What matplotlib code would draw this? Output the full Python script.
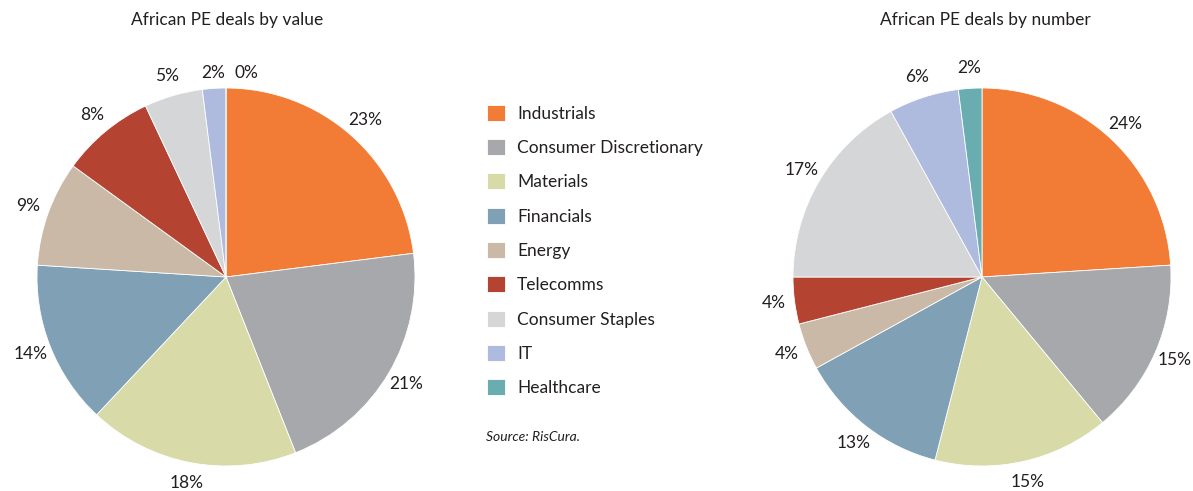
import matplotlib.pyplot as plt

plt.rcParams['font.family'] = ['Lato', 'DejaVu Sans']

# sectors, clockwise from 12 o'clock
sectors = ['Industrials', 'Consumer Discretionary', 'Materials', 'Financials',
           'Energy', 'Telecomms', 'Consumer Staples', 'IT', 'Healthcare']
colors = ['#F27B35', '#A7A8AC', '#D8DAA8', '#7FA0B5', '#CBB9A7',
          '#B44332', '#D5D6D8', '#AEBBDF', '#6AADB1']

# share of deals (%)
by_value = [23, 21, 18, 14, 9, 8, 5, 2, 0]
by_number = [24, 15, 15, 13, 4, 4, 17, 6, 2]

W, H = 1193, 491
TXT = '#231F20'
fig = plt.figure(figsize=(W / 100, H / 100), dpi=100)


def pie_axes(cx, cy, r, lim=1.2):
    # square axes in pixel units, pie of radius 1 centred at (cx, cy)
    side = 2 * lim * r
    ax = fig.add_axes([(cx - lim * r) / W, (H - cy - lim * r) / H, side / W, side / H])
    ax.set_xlim(-lim, lim)
    ax.set_ylim(-lim, lim)
    return ax


def draw_pie(ax, vals, title, cx):
    wedges, texts = ax.pie(vals, colors=colors, startangle=90, counterclock=False,
                           labels=['%d%%' % v for v in vals], labeldistance=1.11,
                           wedgeprops=dict(edgecolor='white', linewidth=0.6),
                           textprops=dict(fontsize=12.5, color=TXT))
    for t in texts:
        t.set_ha('center')
        t.set_va('center')
    ax.set_xlim(-1.2, 1.2)
    ax.set_ylim(-1.2, 1.2)
    ax.axis('off')
    fig.text(cx / W, 1 - 20 / H, title, ha='center', va='center', fontsize=12.5, color=TXT)
    return wedges, texts


ax1 = pie_axes(226, 277, 189)
wedges, t1 = draw_pie(ax1, by_value, 'African PE deals by value', 227)
# nudge the zero slice label off the top so it does not sit on "2%"
t1[-1].set_position((0.11, 1.08))
t1[-2].set_position((-0.07, 1.08))

ax2 = pie_axes(982, 277, 189)
draw_pie(ax2, by_number, 'African PE deals by number', 985)

leg = fig.legend(wedges, sectors, loc='upper left', bbox_to_anchor=(478 / W, 1 - 96 / H),
                 frameon=False, fontsize=12.5, handlelength=1.05, handleheight=1.05,
                 handletextpad=0.7, labelspacing=1.0, borderpad=0)
for t in leg.get_texts():
    t.set_color(TXT)

fig.text(486 / W, 1 - 437 / H, 'Source: RisCura.', style='italic', fontsize=10,
         color=TXT, ha='left', va='center')

fig.savefig('out.png', dpi=100)
